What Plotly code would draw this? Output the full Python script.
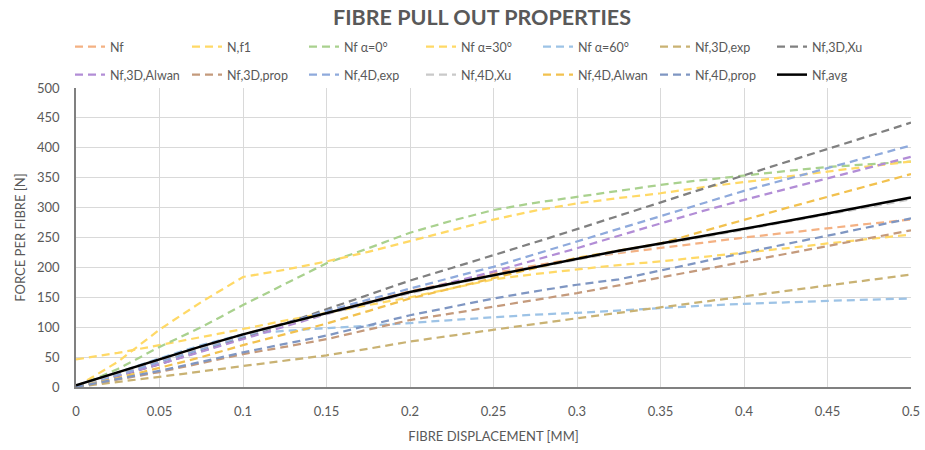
import plotly.graph_objects as go

x = [0, 0.025, 0.05, 0.075, 0.1, 0.125, 0.15, 0.175, 0.2, 0.225, 0.25,
     0.275, 0.3, 0.325, 0.35, 0.375, 0.4, 0.425, 0.45, 0.475, 0.5]

nf          = [0, 22, 45, 66, 88, 107, 125, 143, 160, 175, 190, 203, 215, 224, 232, 241, 250, 258, 266, 273, 280]
n_f1        = [46, 57, 70, 83, 97, 111, 124, 137, 150, 165, 180, 189, 197, 204, 210, 217, 225, 232, 240, 247, 255]
nf_a0       = [0, 30, 67, 100, 137, 172, 207, 232, 258, 278, 296, 308, 318, 328, 338, 346, 354, 361, 368, 373, 377]
nf_a30      = [0, 42, 96, 142, 184, 196, 210, 226, 244, 262, 280, 295, 307, 316, 324, 334, 343, 352, 360, 369, 377]
nf_a60      = [0, 24, 48, 70, 88, 94, 98, 102, 107, 112, 117, 121, 124, 128, 133, 136, 139, 142, 144, 146, 148]
nf_3d_exp   = [0, 8, 17, 26, 35, 44, 53, 64, 76, 86, 96, 105, 115, 124, 133, 143, 152, 161, 170, 179, 188]
nf_3d_xu    = [0, 18, 38, 60, 82, 106, 130, 155, 178, 199, 220, 242, 264, 286, 309, 331, 354, 376, 398, 420, 442]
nf_3d_alwan = [0, 19, 38, 59, 80, 101, 122, 140, 157, 175, 193, 212, 232, 253, 274, 294, 313, 331, 349, 367, 385]
nf_3d_prop  = [0, 12, 25, 40, 55, 67, 80, 96, 112, 123, 134, 145, 157, 170, 183, 196, 209, 222, 236, 249, 262]
nf_4d_exp   = [0, 20, 42, 63, 85, 106, 127, 146, 165, 183, 201, 222, 243, 264, 285, 306, 328, 347, 366, 385, 404]
nf_4d_xu    = [0, 24, 46, 67, 87, 105, 122, 140, 157, 172, 186, 200, 213, 226, 238, 251, 263, 276, 288, 301, 314]
nf_4d_alwan = [0, 15, 32, 50, 70, 88, 106, 127, 148, 165, 182, 199, 216, 228, 240, 260, 280, 299, 318, 337, 356]
nf_4d_prop  = [0, 13, 27, 42, 58, 72, 86, 103, 120, 134, 148, 160, 171, 180, 195, 210, 224, 239, 253, 268, 282]
nf_avg      = [3, 25, 47, 68, 88, 106, 123, 141, 159, 173, 187, 201, 215, 228, 240, 252, 265, 277, 290, 303, 317]

names = ["Nf", "N,f1", "Nf α=0°", "Nf α=30°", "Nf α=60°", "Nf,3D,exp", "Nf,3D,Xu",
         "Nf,3D,Alwan", "Nf,3D,prop", "Nf,4D,exp", "Nf,4D,Xu", "Nf,4D,Alwan", "Nf,4D,prop", "Nf,avg"]
series = [nf, n_f1, nf_a0, nf_a30, nf_a60, nf_3d_exp, nf_3d_xu,
          nf_3d_alwan, nf_3d_prop, nf_4d_exp, nf_4d_xu, nf_4d_alwan, nf_4d_prop, nf_avg]
colors = ["#F4B183", "#FFD966", "#A9D18E", "#FFD966", "#9DC3E6", "#C9B273", "#808080",
          "#B28DD6", "#C49A7C", "#8FAADC", "#C9C9C9", "#F2C14E", "#7F96C2", "#000000"]

FONT = "Lato"
GREY = "#595959"

fig = go.Figure()
for i, (nm, ys, c) in enumerate(zip(names, series, colors)):
    solid = nm == "Nf,avg"
    fig.add_trace(go.Scatter(
        x=x, y=ys, name=nm, mode="lines",
        line=dict(color=c, width=2.5 if solid else 2.25,
                  dash="solid" if solid else "8px,5px"),
        legend="legend" if i < 7 else "legend2",
    ))

L, R, T, B = 76, 14, 88, 63

legend_common = dict(orientation="h", xanchor="left", yanchor="middle",
                     xref="container", yref="container",
                     x=70 / 925, entrywidthmode="pixels", entrywidth=72,
                     font=dict(family=FONT, size=12.5, color=GREY),
                     bgcolor="rgba(0,0,0,0)", itemwidth=30, traceorder="normal")

fig.update_layout(
    width=925, height=450,
    margin=dict(l=L, r=R, t=T, b=B, autoexpand=False),
    paper_bgcolor="white", plot_bgcolor="white",
    title=dict(text="<b>FIBRE PULL OUT PROPERTIES</b>", x=482 / 925, xanchor="center",
               xref="container", y=1 - 17 / 450, yanchor="middle",
               font=dict(family=FONT, size=21.5, color=GREY)),
    legend=dict(legend_common, y=1 - 47 / 450),
    legend2=dict(legend_common, y=1 - 75 / 450),
    xaxis=dict(range=[0, 0.5], dtick=0.05, tick0=0, showgrid=True, gridcolor="#D9D9D9",
               gridwidth=1, showline=True, linecolor="#808080", linewidth=1.5,
               zeroline=False, ticks="", ticklabelstandoff=12,
               tickfont=dict(family=FONT, size=13, color=GREY),
               title=dict(text="FIBRE DISPLACEMENT [MM]", standoff=14,
                          font=dict(family=FONT, size=13, color=GREY))),
    yaxis=dict(range=[0, 500], dtick=50, showgrid=True, gridcolor="#D9D9D9",
               gridwidth=1, showline=True, linecolor="#808080", linewidth=1.5,
               zeroline=False, ticks="", ticklabelstandoff=12,
               tickfont=dict(family=FONT, size=13, color=GREY),
               title=dict(text="FORCE PER FIBRE [N]", standoff=8,
                          font=dict(family=FONT, size=13, color=GREY))),
)

fig.write_html("out.html")
